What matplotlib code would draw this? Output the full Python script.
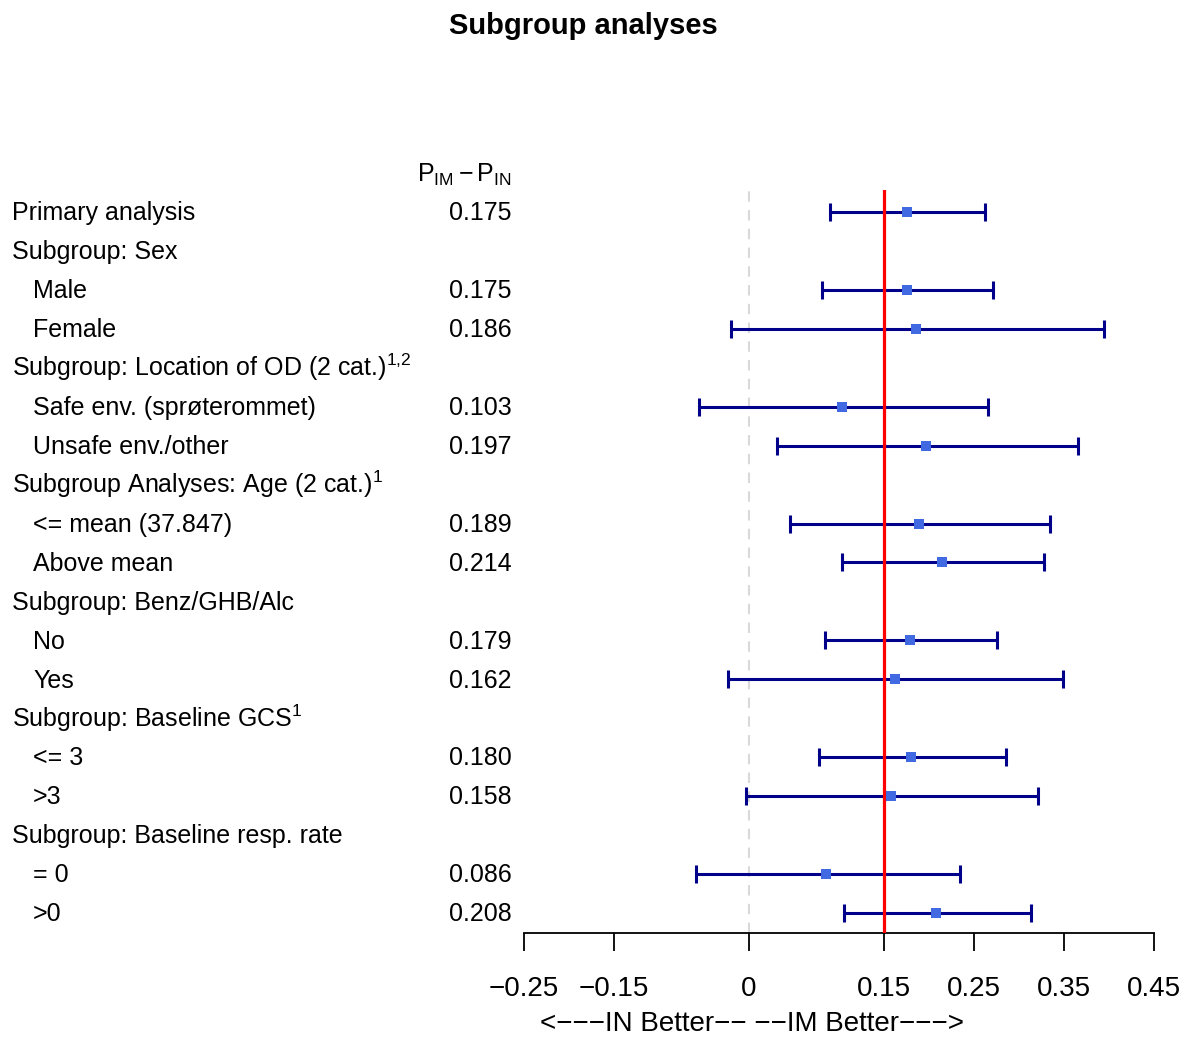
import numpy as np
import matplotlib
matplotlib.use('Agg')
import matplotlib.pyplot as plt
from matplotlib.transforms import blended_transform_factory, offset_copy

# ====== 데이터 ======
row_labels = ['Primary analysis',
              'Subgroup: Sex', 'Male', 'Female',
              'Subgroup: Location of OD (2 cat.)$^{1{,}2}$', 'Safe env. (sprøterommet)', 'Unsafe env./other',
              'Subgroup Analyses: Age (2 cat.)$^{1}$', '<= mean (37.847)', 'Above mean',
              'Subgroup: Benz/GHB/Alc', 'No', 'Yes',
              'Subgroup: Baseline GCS$^{1}$', '<= 3', '>3',
              'Subgroup: Baseline resp. rate', '= 0', '>0']
is_sub = [False, False, True, True, False, True, True, False, True, True,
          False, True, True, False, True, True, False, True, True]
est = [0.175, np.nan, 0.175, 0.186, np.nan, 0.103, 0.197, np.nan, 0.189, 0.214,
       np.nan, 0.179, 0.162, np.nan, 0.180, 0.158, np.nan, 0.086, 0.208]
lower = [0.090, np.nan, 0.081, -0.020, np.nan, -0.056, 0.031, np.nan, 0.046, 0.103,
         np.nan, 0.084, -0.023, np.nan, 0.078, -0.003, np.nan, -0.059, 0.105]
upper = [0.262, np.nan, 0.271, 0.394, np.nan, 0.265, 0.366, np.nan, 0.334, 0.328,
         np.nan, 0.275, 0.349, np.nan, 0.285, 0.321, np.nan, 0.234, 0.313]
xticks = [-0.25, -0.15, 0, 0.15, 0.25, 0.35, 0.45]
xtick_labels = ['\u22120.25', '\u22120.15', '0', '0.15', '0.25', '0.35', '0.45']
ref_line = 0.15

# ====== 스타일 ======
plt.rcParams['font.family'] = ['Liberation Sans', 'DejaVu Sans']
plt.rcParams['mathtext.fontset'] = 'custom'
plt.rcParams['mathtext.rm'] = 'Liberation Sans'
plt.rcParams['mathtext.it'] = 'Liberation Sans:italic'
plt.rcParams['mathtext.bf'] = 'Liberation Sans:bold'

W, H = 1195, 1037
fig = plt.figure(figsize=(W / 100, H / 100), dpi=100)

# 플롯 영역 (픽셀 기준)
x0, x1 = 524, 1154
y_top, y_bot = 190, 933
ax = fig.add_axes([x0 / W, 1 - y_bot / H, (x1 - x0) / W, (y_bot - y_top) / H])

n = len(row_labels)
rows = np.arange(n)
row_px = 38.94
ax.set_xlim(-0.25, 0.45)
ax.set_ylim((y_bot - 212) / row_px, (y_top - 212) / row_px)

est_a = np.array(est)
lo_a = np.array(lower)
hi_a = np.array(upper)
ok = ~np.isnan(est_a)

ax.axvline(0, color='#d9d9d9', lw=1.5, ls=(0, (5, 4)), zorder=1)
ax.errorbar(est_a[ok], rows[ok], xerr=[est_a[ok] - lo_a[ok], hi_a[ok] - est_a[ok]],
            fmt='none', ecolor='#00008b', elinewidth=2.2, capsize=6.5, capthick=2.2, zorder=2)
ax.axvline(ref_line, color='#ff0000', lw=2.3, zorder=3)
ax.scatter(est_a[ok], rows[ok], marker='s', s=55, color='#4169e1', zorder=4, linewidths=0)

for s in ['top', 'right', 'left']:
    ax.spines[s].set_visible(False)
ax.spines['bottom'].set_linewidth(1.3)
ax.set_yticks([])
ax.set_xticks(xticks)
ax.set_xticklabels(xtick_labels, fontsize=20)
ax.tick_params(axis='x', length=13, width=1.3, pad=18, direction='out')

# ====== 왼쪽 텍스트 ======
tr = blended_transform_factory(fig.transFigure, ax.transData)
tr = offset_copy(tr, fig=fig, x=0, y=-6.0, units='points')
for i, lab in enumerate(row_labels):
    xx = 33 if is_sub[i] else 12
    ax.text(xx / W, i, lab, transform=tr, fontsize=18, ha='left', va='baseline', clip_on=False)
    if ok[i]:
        ax.text(512 / W, i, '%.3f' % est[i], transform=tr, fontsize=18, ha='right',
                va='baseline', clip_on=False)
ax.text(512 / W, -1, r'$\mathrm{P_{IM}-P_{IN}}$', transform=tr, fontsize=18,
        ha='right', va='baseline', clip_on=False)

fig.text(583 / W, 1 - 26 / H, 'Subgroup analyses', fontsize=21, fontweight='bold',
         ha='center', va='center')
fig.text(752 / W, 1 - 1024 / H, '<\u2212\u2212\u2212IN Better\u2212\u2212 \u2212\u2212IM Better\u2212\u2212\u2212>',
         fontsize=20, ha='center', va='center')

plt.savefig('out.png', dpi=100)
